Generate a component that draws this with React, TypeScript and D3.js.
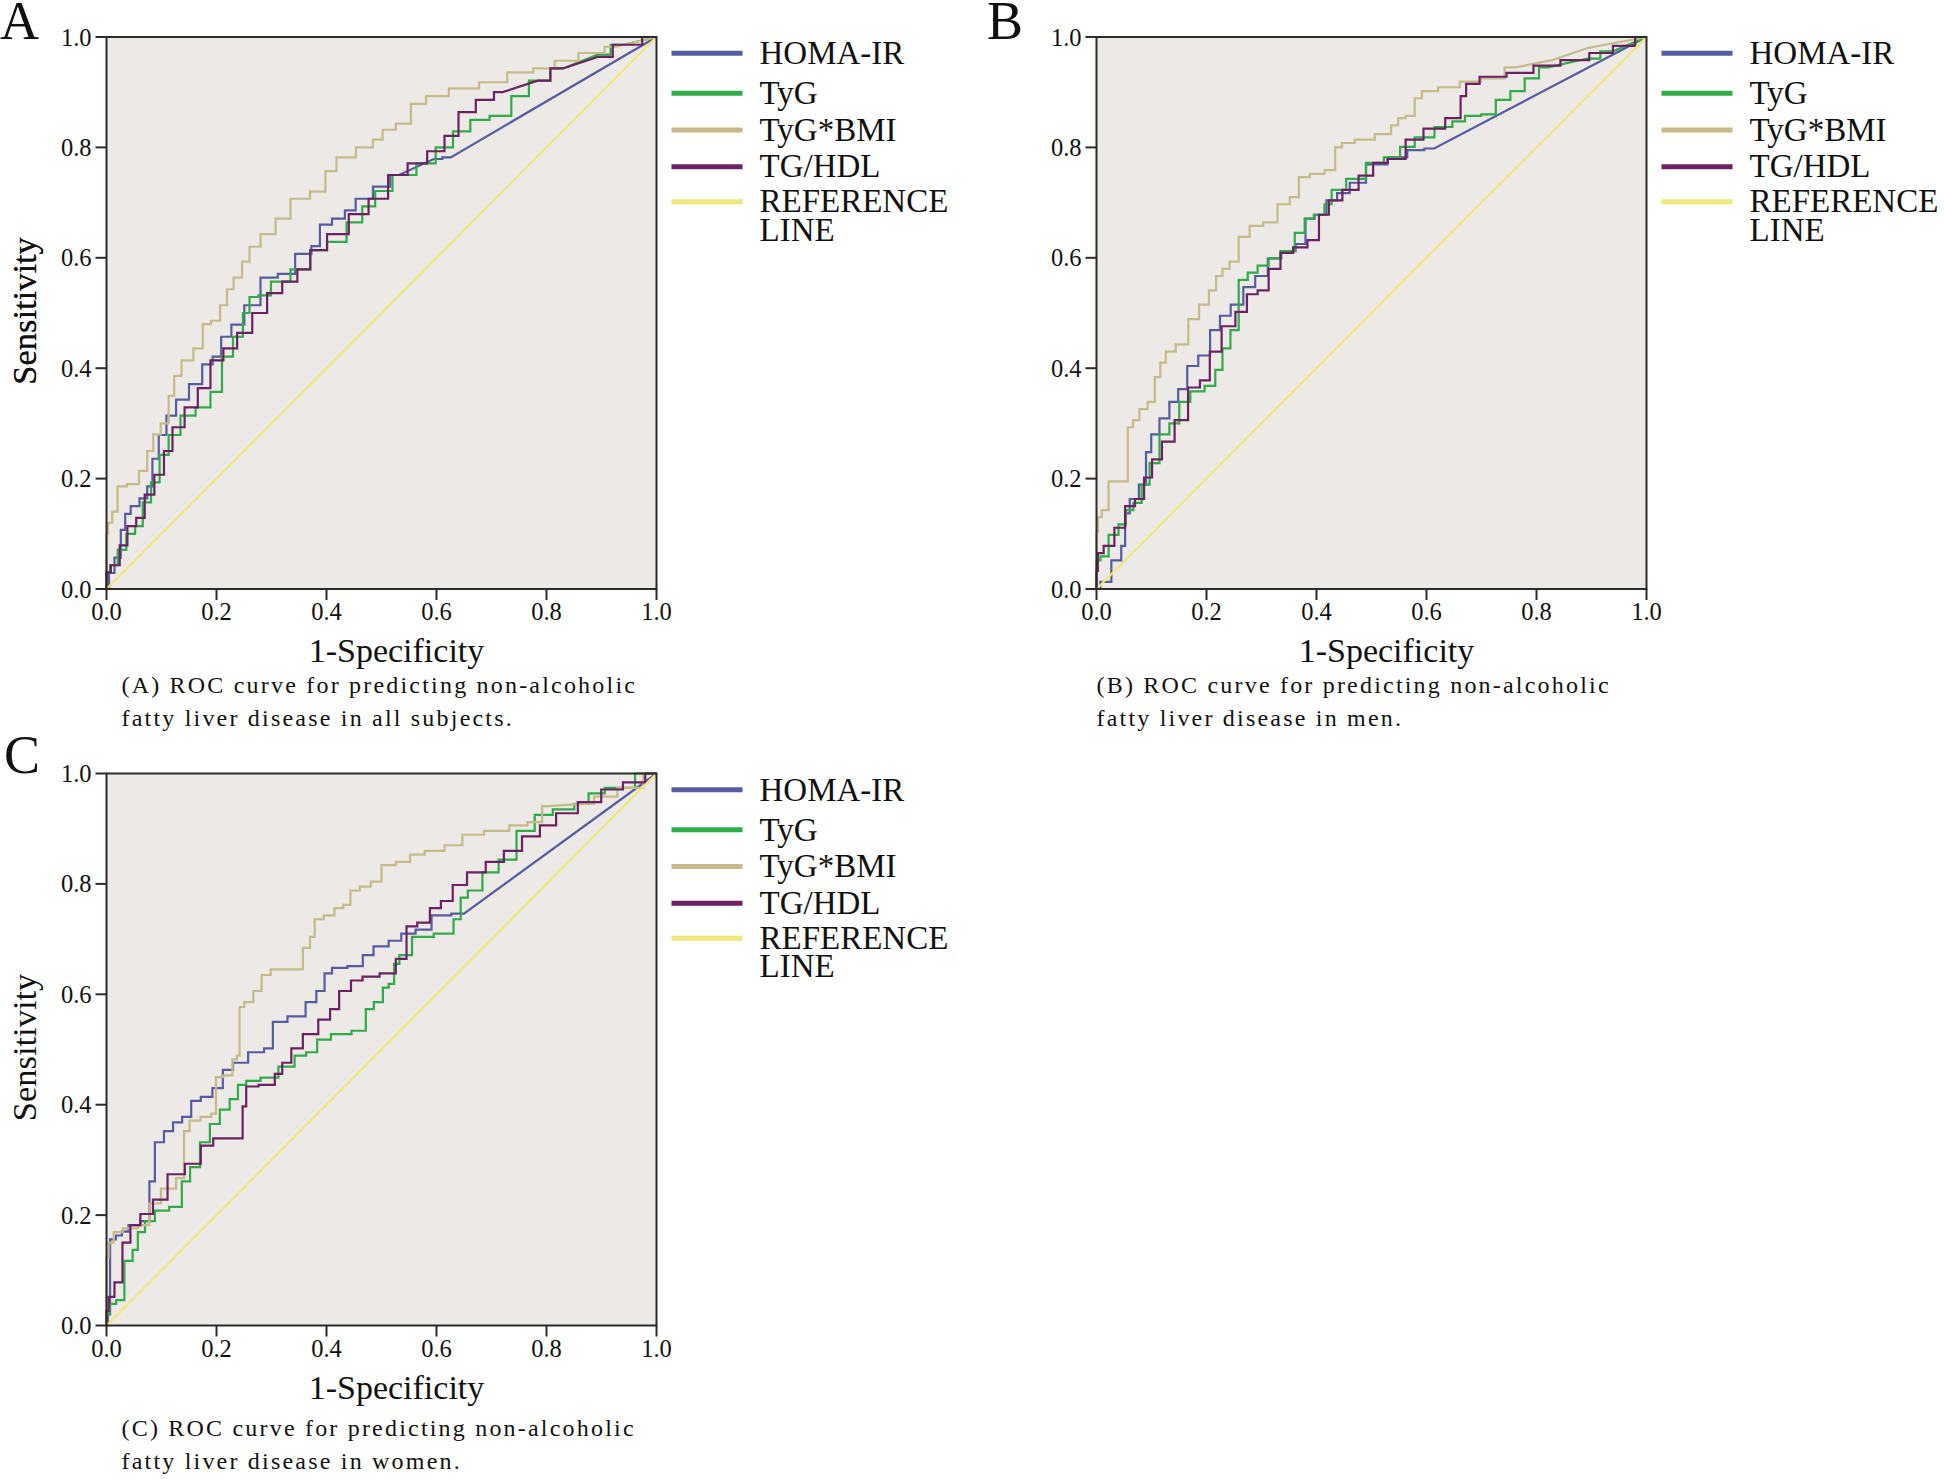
import React from "react";
import * as d3 from "d3";

type Pt = [number, number];

// ---------- Data (1-Specificity, Sensitivity) ----------
const SERIES = ["HOMA-IR", "TyG", "TyG*BMI", "TG/HDL"];
const TICKS = [0, 0.2, 0.4, 0.6, 0.8, 1.0];

const A_HOMA: Pt[] = [[0,0],[0.009,0.029],[0.02,0.057],[0.032,0.107],[0.036,0.136],[0.052,0.15],[0.068,0.164],[0.08,0.186],[0.087,0.236],[0.103,0.279],[0.115,0.314],[0.138,0.343],[0.162,0.371],[0.186,0.407],[0.2,0.421],[0.217,0.457],[0.237,0.479],[0.264,0.514],[0.296,0.564],[0.327,0.571],[0.359,0.607],[0.386,0.621],[0.39,0.66],[0.43,0.671],[0.437,0.686],[0.469,0.707],[0.5,0.729],[0.532,0.75],[0.595,0.779],[0.626,0.782],[1,1]];
const A_TYG: Pt[] = [[0,0],[0,0.03],[0.013,0.043],[0.028,0.071],[0.044,0.1],[0.06,0.114],[0.072,0.157],[0.09,0.193],[0.103,0.243],[0.123,0.279],[0.146,0.314],[0.178,0.329],[0.2,0.357],[0.22,0.421],[0.24,0.457],[0.256,0.5],[0.264,0.529],[0.288,0.532],[0.31,0.557],[0.359,0.579],[0.382,0.614],[0.42,0.629],[0.453,0.664],[0.477,0.693],[0.5,0.721],[0.54,0.75],[0.587,0.771],[0.61,0.8],[0.65,0.829],[0.673,0.85],[0.72,0.857],[0.752,0.893],[0.784,0.921],[0.83,0.943],[0.893,0.968],[0.94,0.986],[1,1]];
const A_BMI: Pt[] = [[0,0],[0,0.1],[0.005,0.12],[0.016,0.14],[0.024,0.186],[0.05,0.19],[0.068,0.214],[0.08,0.25],[0.09,0.28],[0.107,0.3],[0.119,0.35],[0.127,0.386],[0.146,0.414],[0.17,0.436],[0.18,0.48],[0.2,0.486],[0.213,0.514],[0.225,0.543],[0.237,0.564],[0.256,0.593],[0.264,0.62],[0.296,0.643],[0.319,0.671],[0.35,0.707],[0.39,0.72],[0.406,0.757],[0.43,0.782],[0.477,0.8],[0.492,0.814],[0.512,0.832],[0.54,0.843],[0.567,0.879],[0.595,0.893],[0.65,0.907],[0.705,0.918],[0.752,0.936],[0.8,0.943],[0.83,0.957],[0.886,0.971],[0.925,0.982],[1,1]];
const A_TGHDL: Pt[] = [[0,0],[0,0.03],[0.016,0.043],[0.032,0.079],[0.044,0.114],[0.064,0.129],[0.075,0.171],[0.099,0.207],[0.11,0.25],[0.13,0.293],[0.154,0.329],[0.178,0.364],[0.2,0.414],[0.225,0.436],[0.25,0.464],[0.28,0.5],[0.304,0.536],[0.335,0.557],[0.359,0.579],[0.382,0.614],[0.42,0.643],[0.461,0.679],[0.492,0.707],[0.532,0.75],[0.563,0.771],[0.603,0.793],[0.626,0.821],[0.654,0.864],[0.689,0.886],[0.72,0.9],[0.784,0.921],[0.83,0.943],[0.893,0.964],[0.948,0.986],[1,1]];

const B_HOMA: Pt[] = [[0,0],[0.014,0.013],[0.04,0.052],[0.05,0.078],[0.054,0.137],[0.067,0.163],[0.087,0.189],[0.093,0.248],[0.106,0.28],[0.123,0.309],[0.142,0.339],[0.155,0.362],[0.175,0.404],[0.195,0.423],[0.218,0.469],[0.231,0.495],[0.257,0.515],[0.277,0.547],[0.3,0.567],[0.323,0.599],[0.349,0.612],[0.375,0.625],[0.385,0.671],[0.408,0.678],[0.428,0.704],[0.447,0.717],[0.474,0.736],[0.506,0.769],[0.552,0.782],[0.578,0.795],[0.614,0.798],[1,1]];
const B_TYG: Pt[] = [[0,0],[0,0.052],[0.014,0.059],[0.03,0.098],[0.05,0.117],[0.057,0.143],[0.077,0.156],[0.087,0.189],[0.106,0.228],[0.123,0.28],[0.142,0.3],[0.159,0.339],[0.182,0.358],[0.211,0.368],[0.221,0.397],[0.237,0.436],[0.25,0.469],[0.267,0.56],[0.283,0.573],[0.303,0.586],[0.323,0.599],[0.346,0.612],[0.375,0.645],[0.382,0.671],[0.408,0.678],[0.421,0.697],[0.434,0.723],[0.474,0.743],[0.506,0.772],[0.539,0.782],[0.565,0.801],[0.592,0.818],[0.637,0.837],[0.657,0.847],[0.683,0.857],[0.716,0.86],[0.736,0.886],[0.769,0.902],[0.788,0.925],[0.821,0.945],[0.893,0.961],[0.939,0.974],[1,1]];
const B_BMI: Pt[] = [[0,0],[0,0.104],[0.005,0.13],[0.014,0.143],[0.03,0.195],[0.054,0.195],[0.06,0.293],[0.073,0.306],[0.083,0.326],[0.103,0.339],[0.109,0.384],[0.123,0.41],[0.129,0.43],[0.159,0.443],[0.175,0.489],[0.198,0.515],[0.211,0.541],[0.224,0.567],[0.234,0.58],[0.25,0.593],[0.267,0.638],[0.29,0.658],[0.316,0.664],[0.342,0.697],[0.361,0.71],[0.375,0.746],[0.401,0.752],[0.428,0.759],[0.44,0.8],[0.453,0.808],[0.486,0.814],[0.526,0.824],[0.545,0.84],[0.552,0.853],[0.572,0.857],[0.585,0.889],[0.598,0.902],[0.644,0.909],[0.677,0.919],[0.722,0.925],[0.762,0.945],[0.828,0.958],[0.893,0.98],[1,1]];
const B_TGHDL: Pt[] = [[0,0],[0,0.033],[0.005,0.065],[0.021,0.078],[0.044,0.111],[0.06,0.15],[0.08,0.163],[0.093,0.202],[0.109,0.235],[0.129,0.267],[0.155,0.306],[0.178,0.365],[0.198,0.378],[0.214,0.43],[0.241,0.476],[0.264,0.502],[0.283,0.534],[0.303,0.541],[0.323,0.58],[0.346,0.609],[0.369,0.619],[0.398,0.632],[0.411,0.678],[0.434,0.704],[0.46,0.723],[0.493,0.749],[0.513,0.772],[0.546,0.779],[0.578,0.814],[0.611,0.834],[0.657,0.853],[0.667,0.893],[0.677,0.915],[0.716,0.928],[0.775,0.935],[0.814,0.948],[0.873,0.958],[0.919,0.971],[0.959,0.984],[1,1]];

const C_HOMA: Pt[] = [[0,0],[0.005,0.02],[0.008,0.156],[0.026,0.163],[0.03,0.17],[0.05,0.182],[0.073,0.189],[0.083,0.261],[0.093,0.332],[0.116,0.352],[0.126,0.368],[0.149,0.378],[0.159,0.407],[0.184,0.414],[0.201,0.43],[0.222,0.463],[0.238,0.476],[0.277,0.495],[0.296,0.502],[0.309,0.55],[0.349,0.56],[0.375,0.586],[0.388,0.606],[0.405,0.638],[0.415,0.648],[0.461,0.651],[0.471,0.671],[0.5,0.687],[0.526,0.697],[0.546,0.71],[0.578,0.717],[0.604,0.743],[0.65,0.746],[1,1]];
const C_TYG: Pt[] = [[0,0],[0,0.02],[0.011,0.039],[0.024,0.046],[0.041,0.117],[0.054,0.137],[0.06,0.169],[0.08,0.189],[0.096,0.208],[0.132,0.215],[0.142,0.261],[0.162,0.287],[0.178,0.332],[0.198,0.365],[0.214,0.391],[0.234,0.41],[0.244,0.436],[0.264,0.443],[0.296,0.449],[0.329,0.469],[0.355,0.489],[0.371,0.495],[0.395,0.518],[0.421,0.528],[0.47,0.534],[0.473,0.573],[0.499,0.586],[0.506,0.612],[0.52,0.619],[0.526,0.655],[0.539,0.671],[0.572,0.704],[0.618,0.71],[0.644,0.736],[0.644,0.775],[0.67,0.788],[0.697,0.821],[0.729,0.844],[0.762,0.896],[0.795,0.925],[0.828,0.935],[0.873,0.945],[0.88,0.964],[0.932,0.974],[0.99,1],[1,1]];
const C_BMI: Pt[] = [[0,0],[0,0.124],[0.008,0.15],[0.018,0.169],[0.041,0.176],[0.073,0.182],[0.083,0.221],[0.115,0.248],[0.138,0.267],[0.144,0.352],[0.158,0.371],[0.184,0.378],[0.197,0.384],[0.201,0.45],[0.224,0.453],[0.234,0.482],[0.24,0.489],[0.244,0.577],[0.257,0.586],[0.277,0.606],[0.287,0.635],[0.31,0.645],[0.349,0.645],[0.365,0.684],[0.375,0.704],[0.382,0.736],[0.408,0.743],[0.421,0.756],[0.44,0.762],[0.447,0.788],[0.474,0.795],[0.487,0.804],[0.513,0.834],[0.539,0.84],[0.565,0.853],[0.592,0.86],[0.637,0.87],[0.657,0.889],[0.716,0.896],[0.749,0.906],[0.782,0.912],[0.802,0.941],[0.867,0.945],[0.906,0.958],[0.952,0.974],[1,1]];
const C_TGHDL: Pt[] = [[0,0],[0,0.026],[0.008,0.052],[0.021,0.078],[0.037,0.15],[0.05,0.182],[0.073,0.202],[0.096,0.228],[0.126,0.274],[0.159,0.293],[0.184,0.326],[0.204,0.339],[0.244,0.339],[0.251,0.397],[0.257,0.433],[0.296,0.436],[0.316,0.456],[0.323,0.476],[0.349,0.502],[0.365,0.528],[0.405,0.554],[0.408,0.573],[0.438,0.606],[0.451,0.625],[0.48,0.632],[0.513,0.638],[0.539,0.664],[0.552,0.723],[0.578,0.73],[0.598,0.756],[0.618,0.769],[0.641,0.798],[0.67,0.821],[0.709,0.84],[0.736,0.86],[0.775,0.886],[0.801,0.906],[0.834,0.928],[0.88,0.948],[0.919,0.971],[0.959,0.984],[1,1]];

const REF_LINE: Pt[] = [[0, 0], [1, 1]];

// ---------- Style ----------
const COLORS = ["#555c9f", "#2fab48", "#c6ba88", "#6c2262"];
const REF_COLOR = "#efe77c";
const BG = "#ece9e7";
const FONT = "'Liberation Serif', 'Times New Roman', Times, serif";

const PW = 550;
const PH = 552;

type Panel = {
  letter: string; letterX: number; letterY: number;
  left: number; top: number; series: Pt[][];
  caption: string[]; capX: number; capDy: number;
};

const PANELS: Panel[] = [
  { letter: "A", letterX: 0, letterY: 39, left: 106.5, top: 37, series: [A_HOMA, A_TYG, A_BMI, A_TGHDL],
    caption: ["(A) ROC curve for predicting non-alcoholic", "fatty liver disease in all subjects."], capX: 15, capDy: 0 },
  { letter: "B", letterX: 987, letterY: 39, left: 1096.5, top: 37, series: [B_HOMA, B_TYG, B_BMI, B_TGHDL],
    caption: ["(B) ROC curve for predicting non-alcoholic", "fatty liver disease in men."], capX: 0, capDy: 0 },
  { letter: "C", letterX: 4, letterY: 773, left: 106.5, top: 773.5, series: [C_HOMA, C_TYG, C_BMI, C_TGHDL],
    caption: ["(C) ROC curve for predicting non-alcoholic", "fatty liver disease in women."], capX: 15, capDy: 6 },
];

const LEGEND_DY = [16.3, 56.3, 93, 129.7];
const LEGEND_REF_DY = 164.7;

// ROC staircase: short segments drawn as steps, long ones as straight runs
function rocPath(pts: Pt[], x: d3.ScaleLinear<number, number>, y: d3.ScaleLinear<number, number>): string {
  const p = d3.path();
  p.moveTo(x(pts[0][0]), y(pts[0][1]));
  for (let i = 1; i < pts.length; i++) {
    const a = pts[i - 1];
    const b = pts[i];
    if (b[0] - a[0] <= 0.06) {
      const xm = x((a[0] + b[0]) / 2);
      p.lineTo(xm, y(a[1]));
      p.lineTo(xm, y(b[1]));
      p.lineTo(x(b[0]), y(b[1]));
    } else {
      p.lineTo(x(b[0]), y(b[1]));
    }
  }
  return p.toString();
}

function RocPanel({ p }: { p: Panel }) {
  const x = d3.scaleLinear().domain([0, 1]).range([0, PW]);
  const y = d3.scaleLinear().domain([0, 1]).range([PH, 0]);
  const line = d3.line<Pt>().x((d) => x(d[0])).y((d) => y(d[1]));
  const fmt = d3.format(".1f");
  return (
    <g>
      <text x={p.letterX} y={p.letterY} fontFamily={FONT} fontSize={54} fill="#111">{p.letter}</text>
      <g transform={`translate(${p.left},${p.top})`}>
        <rect x={0} y={0} width={PW} height={PH} fill={BG} />
        {p.series.map((s, i) => (
          <path key={i} d={rocPath(s, x, y)} fill="none" stroke={COLORS[i]} strokeWidth={2.2} strokeLinejoin="miter" />
        ))}
        <path d={line(REF_LINE) || ""} fill="none" stroke={REF_COLOR} strokeWidth={2.2} />
        <rect x={0} y={0} width={PW} height={PH} fill="none" stroke="#2b2b2b" strokeWidth={2} />
        {TICKS.map((t) => (
          <g key={"x" + t}>
            <line x1={x(t)} x2={x(t)} y1={PH} y2={PH + 11} stroke="#2b2b2b" strokeWidth={2} />
            <text x={x(t)} y={PH + 31} textAnchor="middle" fontFamily={FONT} fontSize={24.5} fill="#111">{fmt(t)}</text>
          </g>
        ))}
        {TICKS.map((t) => (
          <g key={"y" + t}>
            <line x1={-11} x2={0} y1={y(t)} y2={y(t)} stroke="#2b2b2b" strokeWidth={2} />
            <text x={-15} y={y(t) + 8.5} textAnchor="end" fontFamily={FONT} fontSize={24.5} fill="#111">{fmt(t)}</text>
          </g>
        ))}
        <text x={PW / 2 + 15} y={PH + 73} textAnchor="middle" fontFamily={FONT} fontSize={34} fill="#111">1-Specificity</text>
        <text transform={`translate(${36 - p.left},${PH / 2 - 2}) rotate(-90)`} textAnchor="middle" fontFamily={FONT} fontSize={34.5} fill="#111">Sensitivity</text>
        {p.caption.map((c, i) => (
          <text key={i} x={p.capX} y={PH + 104 + p.capDy + i * 33.3} fontFamily={FONT} fontSize={24} letterSpacing={2.2} fill="#111">{c}</text>
        ))}
        {SERIES.map((name, i) => (
          <g key={name}>
            <line x1={PW + 15} x2={PW + 86} y1={LEGEND_DY[i]} y2={LEGEND_DY[i]} stroke={COLORS[i]} strokeWidth={5} />
            <text x={PW + 103} y={LEGEND_DY[i] + 10.7} fontFamily={FONT} fontSize={33} fill="#111">{name}</text>
          </g>
        ))}
        <line x1={PW + 15} x2={PW + 86} y1={LEGEND_REF_DY} y2={LEGEND_REF_DY} stroke={REF_COLOR} strokeWidth={5} />
        <text x={PW + 103} y={LEGEND_REF_DY + 10.7} fontFamily={FONT} fontSize={33} fill="#111">
          <tspan x={PW + 103}>REFERENCE</tspan>
          <tspan x={PW + 103} dy={28.4}>LINE</tspan>
        </text>
      </g>
    </g>
  );
}

export default function App() {
  return (
    <svg width={1944} height={1479} style={{ position: "absolute", left: 0, top: 0, background: "#fff" }}>
      <rect x={0} y={0} width={1944} height={1479} fill="#fff" />
      {PANELS.map((p) => <RocPanel key={p.letter} p={p} />)}
    </svg>
  );
}
